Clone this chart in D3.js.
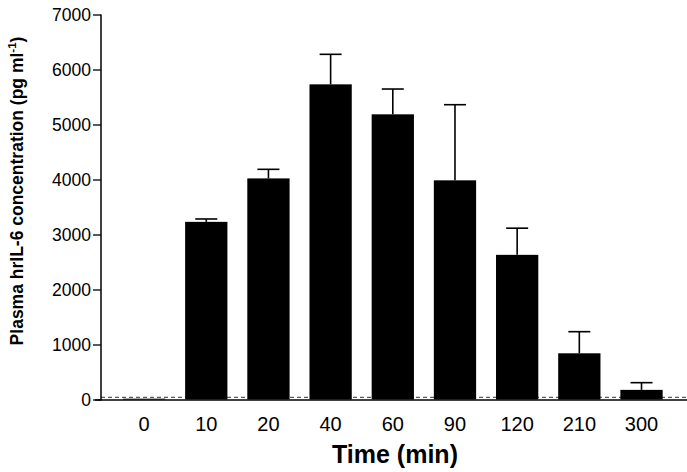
<!DOCTYPE html>
<head>
    <meta charset="UTF-8">
    <title>Plasma hrIL-6 concentration</title>
</head>
<style>
    body { margin: 0; background: #fff; }
    svg { font-family: "Liberation Sans", Arial, sans-serif; }
    .axis--y .tick text { font-size: 17.5px; fill: #000; }
    .axis--x .tick text { font-size: 20px; fill: #000; }
</style>
<body>
<script src="https://d3js.org/d3.v7.min.js"></script>
<script>
    // data (mean and SEM, pg/ml)
    var times = ["0", "10", "20", "40", "60", "90", "120", "210", "300"];
    var means = [15, 3230, 4020, 5730, 5185, 3985, 2630, 840, 175];
    var sems = [0, 52, 165, 546, 460, 1375, 485, 393, 131];
    var yTicks = [0, 1000, 2000, 3000, 4000, 5000, 6000, 7000];
    var detectionLimit = 40;

    var width = 687, height = 472;
    var x0 = 101, y0 = 399.5;

    var svg = d3.select("body").append("svg")
        .attr("width", width)
        .attr("height", height);

    var x = d3.scaleBand()
        .domain(times)
        .range([113, 672.6])
        .paddingInner(0.32)
        .paddingOuter(0.16);

    var y = d3.scaleLinear()
        .domain([0, 7000])
        .range([y0, 14.5]);

    var data = times.map(function(t, i) { return {t: t, m: means[i], e: sems[i]}; });

    // dashed detection limit line, behind the bars
    svg.append("line")
        .attr("x1", x0).attr("x2", width)
        .attr("y1", y(detectionLimit)).attr("y2", y(detectionLimit))
        .attr("stroke", "#333")
        .attr("stroke-width", 1)
        .attr("stroke-dasharray", "4,3");

    // error bars (upper only)
    var err = svg.append("g").attr("stroke", "#000").attr("stroke-width", 1.6);
    data.filter(function(d) { return d.e > 0; }).forEach(function(d) {
        var cx = x(d.t) + x.bandwidth() / 2;
        err.append("line")
            .attr("x1", cx).attr("x2", cx)
            .attr("y1", y(d.m)).attr("y2", y(d.m + d.e));
        err.append("line")
            .attr("x1", cx - 11).attr("x2", cx + 11)
            .attr("y1", y(d.m + d.e)).attr("y2", y(d.m + d.e));
    });

    svg.append("g").selectAll("rect")
        .data(data)
        .enter().append("rect")
        .attr("x", function(d) { return x(d.t); })
        .attr("width", x.bandwidth())
        .attr("y", function(d) { return y(d.m); })
        .attr("height", function(d) { return y0 - y(d.m); })
        .attr("fill", "#000");

    // y axis
    svg.append("g")
        .attr("class", "axis axis--y")
        .attr("transform", "translate(" + x0 + ",0)")
        .call(d3.axisLeft(y).tickValues(yTicks).tickSize(8).tickPadding(2).tickFormat(d3.format("d")))
        .call(function(g) {
            g.select(".domain").remove();
            g.selectAll(".tick line").attr("stroke-width", 1.3);
        });
    svg.append("line")
        .attr("x1", x0).attr("x2", x0)
        .attr("y1", y(7000)).attr("y2", y0 + 1)
        .attr("stroke", "#000").attr("stroke-width", 1.5);

    // x axis
    svg.append("g")
        .attr("class", "axis axis--x")
        .attr("transform", "translate(0," + y0 + ")")
        .call(d3.axisBottom(x).tickSize(0).tickPadding(17))
        .call(function(g) { g.select(".domain").remove(); });
    svg.append("line")
        .attr("x1", 95).attr("x2", width)
        .attr("y1", y0 + 0.5).attr("y2", y0 + 0.5)
        .attr("stroke", "#000").attr("stroke-width", 1.6);

    // axis titles
    svg.append("text")
        .attr("x", 395).attr("y", 463)
        .attr("text-anchor", "middle")
        .attr("font-size", 25)
        .attr("font-weight", "bold")
        .text("Time (min)");

    var yl = svg.append("text")
        .attr("transform", "translate(23,191) rotate(-90)")
        .attr("text-anchor", "middle")
        .attr("font-size", 17.5)
        .attr("font-weight", "bold");
    yl.append("tspan").text("Plasma hrIL-6 concentration (pg ml");
    yl.append("tspan").attr("font-size", 11.5).attr("dy", -7).text("-1");
    yl.append("tspan").attr("dy", 7).text(")");
</script>
</body>
